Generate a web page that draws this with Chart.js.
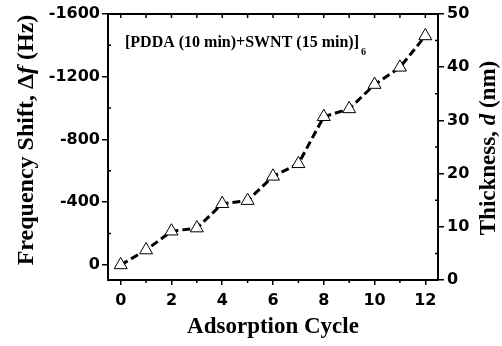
<!DOCTYPE html>
<html lang="en">
<head>
    <meta charset="UTF-8">
    <title>Frequency shift and thickness vs adsorption cycle</title>
    <script src="https://cdn.jsdelivr.net/npm/chart.js"></script>
    <style>
        html, body { margin: 0; padding: 0; background: #fff; }
        #chart { display: block; }
    </style>
</head>
<body>
    <canvas id="chart" width="502" height="346"></canvas>

    <script>
        // data
        const cycles = [0, 1, 2, 3, 4, 5, 6, 7, 8, 9, 10, 11, 12];
        const freqShift = [0, -95, -215, -235, -390, -410, -565, -645, -945, -995, -1150, -1260, -1460];

        // axis ticks
        const cycleTicks = [0, 2, 4, 6, 8, 10, 12];
        const cycleMinor = [1, 3, 5, 7, 9, 11];
        const freqTicks = [-1600, -1200, -800, -400, 0];
        const freqMinor = [-1400, -1000, -600, -200];
        const thickTicks = [0, 10, 20, 30, 40, 50];
        const thickMinor = [5, 15, 25, 35, 45];

        const tickFont = { family: 'DejaVu Sans', size: 16, weight: 'bold' };
        const serifBold = '"Liberation Serif", "Times New Roman", serif';

        // draws frame, minor ticks, titles and the label inside the plot
        const framePlugin = {
            id: 'frame',
            afterDraw(chart) {
                const ctx = chart.ctx;
                const area = chart.chartArea;
                const x = chart.scales.x, y = chart.scales.y, y2 = chart.scales.y2;
                ctx.save();
                ctx.strokeStyle = '#000';
                ctx.lineWidth = 2;
                ctx.beginPath();
                ctx.moveTo(area.left - 1, area.top);
                ctx.lineTo(area.right + 1, area.top);
                ctx.stroke();

                ctx.lineWidth = 1.5;
                ctx.beginPath();
                // top axis ticks point inward
                cycles.forEach(c => {
                    const px = x.getPixelForValue(c);
                    ctx.moveTo(px, area.top);
                    ctx.lineTo(px, area.top + 4);
                });
                // bottom minor ticks
                cycleMinor.forEach(c => {
                    const px = x.getPixelForValue(c);
                    ctx.moveTo(px, area.bottom);
                    ctx.lineTo(px, area.bottom + 3);
                });
                freqMinor.forEach(v => {
                    const py = y.getPixelForValue(v);
                    ctx.moveTo(area.left, py);
                    ctx.lineTo(area.left + 3, py);
                });
                thickMinor.forEach(v => {
                    const py = y2.getPixelForValue(v);
                    ctx.moveTo(area.right, py);
                    ctx.lineTo(area.right - 3, py);
                });
                ctx.stroke();

                ctx.fillStyle = '#000';
                ctx.textBaseline = 'alphabetic';

                // x title
                ctx.font = 'bold 23px ' + serifBold;
                ctx.textAlign = 'center';
                ctx.fillText('Adsorption Cycle', 273, 333);

                // left title with italic f
                drawRotated(ctx, 33, 140, [
                    ['bold 24px ' + serifBold, 'Frequency Shift, \u0394'],
                    ['italic bold 24px ' + serifBold, 'f'],
                    ['bold 24px ' + serifBold, ' (Hz)']
                ]);
                // right title with italic d
                drawRotated(ctx, 495, 148, [
                    ['bold 23px ' + serifBold, 'Thickness, '],
                    ['italic bold 23px ' + serifBold, 'd'],
                    ['bold 23px ' + serifBold, ' (nm)']
                ]);

                // annotation
                ctx.textAlign = 'left';
                ctx.font = 'bold 16px ' + serifBold;
                const label = '[PDDA (10 min)+SWNT (15 min)]';
                ctx.fillText(label, 125, 46.5);
                const w = ctx.measureText(label).width;
                ctx.font = 'bold 10px ' + serifBold;
                ctx.fillText('6', 125 + w + 2, 54.5);
                ctx.restore();
            }
        };

        function drawRotated(ctx, cx, cy, parts) {
            ctx.save();
            ctx.translate(cx, cy);
            ctx.rotate(-Math.PI / 2);
            ctx.textAlign = 'left';
            let total = 0;
            parts.forEach(p => { ctx.font = p[0]; total += ctx.measureText(p[1]).width; });
            let pos = -total / 2;
            parts.forEach(p => {
                ctx.font = p[0];
                ctx.fillText(p[1], pos, 0);
                pos += ctx.measureText(p[1]).width;
            });
            ctx.restore();
        }

        const ctx = document.getElementById('chart').getContext('2d');
        const chart = new Chart(ctx, {
            type: 'line',
            data: {
                datasets: [{
                    data: cycles.map((c, i) => ({ x: c, y: freqShift[i] })),
                    borderColor: '#000',
                    borderWidth: 3,
                    borderDash: [8, 4],
                    pointStyle: 'triangle',
                    pointRadius: 7.5,
                    pointBorderWidth: 1,
                    pointBorderColor: '#000',
                    pointBackgroundColor: '#fff',
                    fill: false,
                    tension: 0
                }]
            },
            options: {
                responsive: false,
                animation: false,
                devicePixelRatio: 1,
                layout: { padding: { top: 14, left: 0, right: 0, bottom: 0 } },
                plugins: {
                    legend: { display: false },
                    tooltip: { enabled: false }
                },
                scales: {
                    x: {
                        type: 'linear',
                        position: 'bottom',
                        min: -0.5,
                        max: 12.5,
                        afterBuildTicks: s => { s.ticks = cycleTicks.map(v => ({ value: v })); },
                        afterFit: s => { s.height = 66; },
                        grid: { drawOnChartArea: false, tickLength: 5, color: '#000', lineWidth: 1.5 },
                        border: { color: '#000', width: 2 },
                        ticks: { font: tickFont, color: '#000', padding: 6, maxRotation: 0, callback: v => String(v) }
                    },
                    y: {
                        position: 'left',
                        reverse: true,
                        min: -1600,
                        max: 96,
                        afterBuildTicks: s => { s.ticks = freqTicks.map(v => ({ value: v })); },
                        afterFit: s => { s.width = 108; },
                        grid: { drawOnChartArea: false, tickLength: 6, color: '#000', lineWidth: 1.5 },
                        border: { color: '#000', width: 2 },
                        ticks: { font: tickFont, color: '#000', padding: 2, callback: v => String(v) }
                    },
                    y2: {
                        position: 'right',
                        min: 0,
                        max: 50,
                        afterBuildTicks: s => { s.ticks = thickTicks.map(v => ({ value: v })); },
                        afterFit: s => { s.width = 64; },
                        grid: { drawOnChartArea: false, tickLength: 6, color: '#000', lineWidth: 1.5 },
                        border: { color: '#000', width: 2 },
                        ticks: { font: tickFont, color: '#000', padding: 3, callback: v => String(v) }
                    }
                }
            },
            plugins: [framePlugin]
        });
    </script>
</body>
</html>
